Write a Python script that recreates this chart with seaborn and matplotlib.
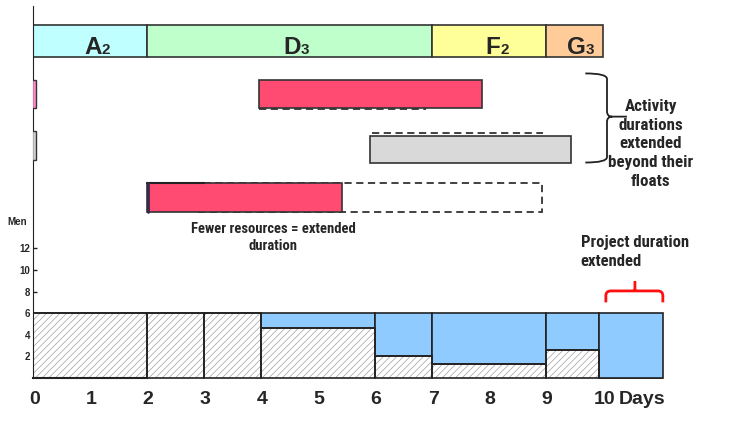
import numpy as np
import pandas as pd
import matplotlib.pyplot as plt
import seaborn as sns
from matplotlib import font_manager
from matplotlib.patches import Rectangle, PathPatch
from matplotlib.path import Path

sns.set_style("white")
plt.rcParams['font.family'] = ['Liberation Sans', 'DejaVu Sans']
plt.rcParams['hatch.linewidth'] = 0.5

# pick a narrow face for the callouts if one is around
_names = {(f.name, str(f.stretch)) for f in font_manager.fontManager.ttflist}
NARROW = dict(family=['Liberation Sans', 'DejaVu Sans'])
for nm in ['Liberation Sans Narrow', 'Arial Narrow', 'Roboto Condensed', 'Open Sans Condensed']:
    if any(n == nm for n, s in _names):
        NARROW = dict(family=[nm, 'DejaVu Sans'])
        break
else:
    if any(n == 'DejaVu Sans' and s in ('condensed', 'semi-condensed', '75', '87.5') for n, s in _names):
        NARROW = dict(family=['DejaVu Sans'], fontstretch='condensed')

# activity bar along the top
acts = ["A", "D", "F", "G"]
act_sub = ["2", "3", "2", "3"]
act_start = [0, 2, 7, 9]
act_end = [2, 7, 9, 10]
act_colors = ["#BFFFFF", "#BFFFCC", "#FFFF99", "#FFCC99"]

# extended activities (actual bar) and their original extent (dashed)
ext_start = [3.96, 5.91, 2.0]
ext_end = [7.88, 9.44, 5.42]
ext_colors = ["#FF4B72", "#D9D9D9", "#FF4B72"]
orig_start = [3.96, 5.95, 2.9]
orig_end = [6.9, 8.95, 8.93]
stub_colors = ["#FF88C8", "#D0D0D0"]

# resource histogram (men per day)
bins = [0, 2, 3, 4, 6, 7, 9, 9.93, 11.05]
normal_men = [6, 6, 6, 4.6, 2, 1.3, 2.6, 0]
extra_men = [0, 0, 0, 1.4, 4, 4.7, 3.4, 6]
men_ticks = [2, 4, 6, 8, 10, 12]
days = list(range(11))

# layout (men units on y, days on x)
top_y, top_h = 29.7, 3.0
row_y = [25.0, 19.9, 15.35]
row_h = [2.6, 2.5, 2.7]

fig = plt.figure(figsize=(7.32, 4.42), dpi=100)
ax = fig.add_axes([33 / 732, 0, 699 / 732, 1])

# histogram
mid = [(a + b) / 2 for a, b in zip(bins[:-1], bins[1:])]
df = pd.DataFrame({"day": mid * 2,
                   "men": normal_men + extra_men,
                   "type": ["normal"] * len(mid) + ["extra"] * len(mid)})
sns.histplot(data=df, x="day", weights="men", hue="type",
             hue_order=["extra", "normal"], bins=bins, multiple="stack",
             palette={"extra": "#8FCBFF", "normal": "white"}, alpha=1,
             edgecolor="#222222", linewidth=1.2, legend=False, ax=ax)
for p in list(ax.patches):
    fc = p.get_facecolor()
    if fc[0] > 0.99 and fc[1] > 0.99 and fc[2] > 0.99 and p.get_height() > 0:
        p.set_hatch("/////")
        p.set_edgecolor("#A0A0A0")
        p.set_linewidth(0)
        ax.add_patch(Rectangle((p.get_x(), p.get_y()), p.get_width(), p.get_height(),
                               fill=False, edgecolor="#222222", lw=1.2, zorder=p.get_zorder()))

# top activity bar
ax.barh(top_y, [e - s for s, e in zip(act_start, act_end)], left=act_start,
        height=top_h, align="edge", color=act_colors, edgecolor="#333333", lw=1.2)
for s, e, a, n in zip(act_start, act_end, acts, act_sub):
    cx = (s + e) / 2 + 0.2
    ax.text(cx, 30.0, a, ha="right", va="baseline", fontsize=17.5, fontweight="bold")
    ax.text(cx, 30.0, n, ha="left", va="baseline", fontsize=11, fontweight="bold")

# original extents (dashed)
ax.plot([orig_start[0], orig_end[0]], [row_y[0] - 0.1] * 2, ls=(0, (4, 2.5)), color="#333333", lw=1.3)
ax.plot([orig_start[1], orig_end[1]], [22.7] * 2, ls=(0, (4, 2.5)), color="#333333", lw=1.3)
ax.add_patch(Rectangle((orig_start[2], row_y[2]), orig_end[2] - orig_start[2], row_h[2],
                       fill=False, ls=(0, (4, 2.5)), edgecolor="#333333", lw=1.3))

# extended bars
ax.barh(row_y, [e - s for s, e in zip(ext_start, ext_end)], left=ext_start,
        height=row_h, align="edge", color=ext_colors, edgecolor="#333333", lw=1.2, zorder=3)
ax.plot([2.0, 3.0], [row_y[2] + row_h[2] + 0.05] * 2, color="#222222", lw=1.5, zorder=4)
ax.plot([2.02, 2.02], [row_y[2], row_y[2] + row_h[2]], color="#3A2A4A", lw=2, zorder=4)

# little stubs on the axis
ax.barh([25.0, 20.2], [0.08, 0.08], left=[-0.02, -0.02], height=[2.6, 2.7], align="edge",
        color=stub_colors, edgecolor="#333333", lw=1, zorder=3)

# black brace
x0, x1, xt = 9.69, 10.07, 10.42
yt, ym, yb, r, rx = 28.2, 24.2, 19.95, 0.5, 0.09
verts = [(x0, yt), (x1, yt), (x1, yt - r), (x1, ym + r), (x1, ym), (x1 + rx, ym), (xt, ym),
         (x1 + rx, ym), (x1, ym), (x1, ym - r), (x1, yb + r), (x1, yb), (x0, yb)]
codes = [Path.MOVETO, Path.CURVE3, Path.CURVE3, Path.LINETO, Path.CURVE3, Path.CURVE3, Path.LINETO,
         Path.MOVETO, Path.CURVE3, Path.CURVE3, Path.LINETO, Path.CURVE3, Path.CURVE3]
ax.add_patch(PathPatch(Path(verts, codes), fill=False, edgecolor="#222222", lw=1.3))

# red brace
xl, xr, xtip = 10.05, 11.05, 10.56
yb2, ym2, ytip, rx, ry = 7.0, 8.06, 8.98, 0.09, 0.45
verts = [(xl, yb2), (xl, ym2 - ry), (xl, ym2), (xl + rx, ym2), (xr - rx, ym2),
         (xr, ym2), (xr, ym2 - ry), (xr, yb2), (xtip, ym2), (xtip, ytip)]
codes = [Path.MOVETO, Path.LINETO, Path.CURVE3, Path.CURVE3, Path.LINETO,
         Path.CURVE3, Path.CURVE3, Path.LINETO, Path.MOVETO, Path.LINETO]
ax.add_patch(PathPatch(Path(verts, codes), fill=False, edgecolor="#FF1010", lw=2))

# texts, sized to the widths seen in the original
callouts = [
    (4.21, 13.0, "Fewer resources = extended\nduration", "center", 11, 165),
    (10.84, 21.67, "Activity\ndurations\nextended\nbeyond their\nfloats", "center", 11.5, 85),
    (9.61, 11.67, "Project duration\nextended", "left", 12, 108),
]
renderer = fig.canvas.get_renderer()
for x, y, s, ha, fs, w in callouts:
    t = ax.text(x, y, s, ha=ha, va="center", fontsize=fs, fontweight="bold",
                linespacing=1.3, multialignment=ha, **NARROW)
    cur = t.get_window_extent(renderer).width
    t.set_fontsize(fs * w / cur)
ax.text(-0.27, 14.4, "Men", ha="center", va="center", fontsize=7, fontweight="bold")
for d in days:
    ax.text(d + 0.02, -2.0, str(d), ha="center", va="center", fontsize=14, fontweight="bold")
ax.text(10.28, -2.0, "Days", ha="left", va="center", fontsize=14, fontweight="bold")

# axes
ax.set_xlim(0, 699 / 57)
ax.set_ylim(-5.93, 35.0)
ax.set_xlabel("")
ax.set_ylabel("")
ax.set_xticks([])
ax.set_yticks(men_ticks)
ax.set_yticklabels([str(t) for t in men_ticks], fontsize=7, fontweight="bold")
ax.tick_params(axis="y", direction="in", length=3, width=1, pad=2, left=True, color="#222222")
ax.spines["top"].set_visible(False)
ax.spines["right"].set_visible(False)
ax.spines["left"].set_bounds(0, 34.4)
ax.spines["left"].set_color("#222222")
ax.spines["bottom"].set_position(("data", 0))
ax.spines["bottom"].set_bounds(0, 2)
ax.spines["bottom"].set_linewidth(1.5)
ax.spines["bottom"].set_color("#222222")
ax.patch.set_alpha(0)

fig.savefig("out.png", dpi=100)
